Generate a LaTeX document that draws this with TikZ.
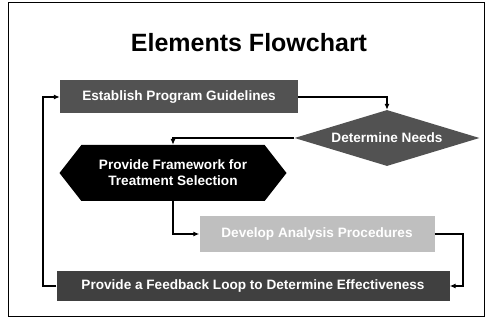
\documentclass[tikz,border=0pt]{standalone}
\usepackage{fontspec}
\setmainfont{Liberation Sans}
\usetikzlibrary{shapes.geometric,shapes.symbols,arrows.meta}

\begin{document}
\begin{tikzpicture}[x=1pt,y=-1pt]
			\useasboundingbox (0,0) rectangle (487,328);
			\tikzset{
			stepbox/.style = {text=white, inner sep=0pt, align=center,
				font=\bfseries\fontsize{13.6}{16}\selectfont},
			flow/.style = {line width=1.1pt, -{Latex[length=6pt,width=5pt]}}
			}
			\draw[line width=1pt] (8,3) rectangle (484,317);
			
			\node (title) at (249,43) {\bfseries\fontsize{25}{29}\selectfont Elements Flowchart};
			
			\node[stepbox, fill=black!68, minimum width=238pt, minimum height=33pt] (guide) at (179,97) {Establish Program Guidelines};
			\node[stepbox, diamond, aspect=3.3, fill=black!68, minimum width=185pt, minimum height=56pt] (needs) at (387,138) {Determine Needs};
			\node[stepbox, signal, signal to=west and east, signal pointer angle=104, fill=black, minimum width=227pt, minimum height=56pt] (frame) at (173,173) {Provide Framework for\\Treatment Selection};
			\node[stepbox, fill=black!25, minimum width=235pt, minimum height=36pt] (develop) at (317,234) {Develop Analysis Procedures};
			\node[stepbox, fill=black!75, minimum width=393pt, minimum height=30pt] (feedback) at (253,286) {Provide a Feedback Loop to Determine Effectiveness};
			
			\coordinate (rloop) at (463,250);
			\coordinate (lloop) at (43,200);
			
			\draw[flow] (guide.east) -| (needs.north);
			\draw[flow] (needs.west) -| (frame.north);
			\draw[flow] (frame.south) |- (develop.west);
			\draw[flow] (develop.east) -- (develop.east -| rloop) |- (feedback.east);
			\draw[flow] (feedback.west) -- (feedback.west -| lloop) |- (guide.west);
\end{tikzpicture}
\end{document}
